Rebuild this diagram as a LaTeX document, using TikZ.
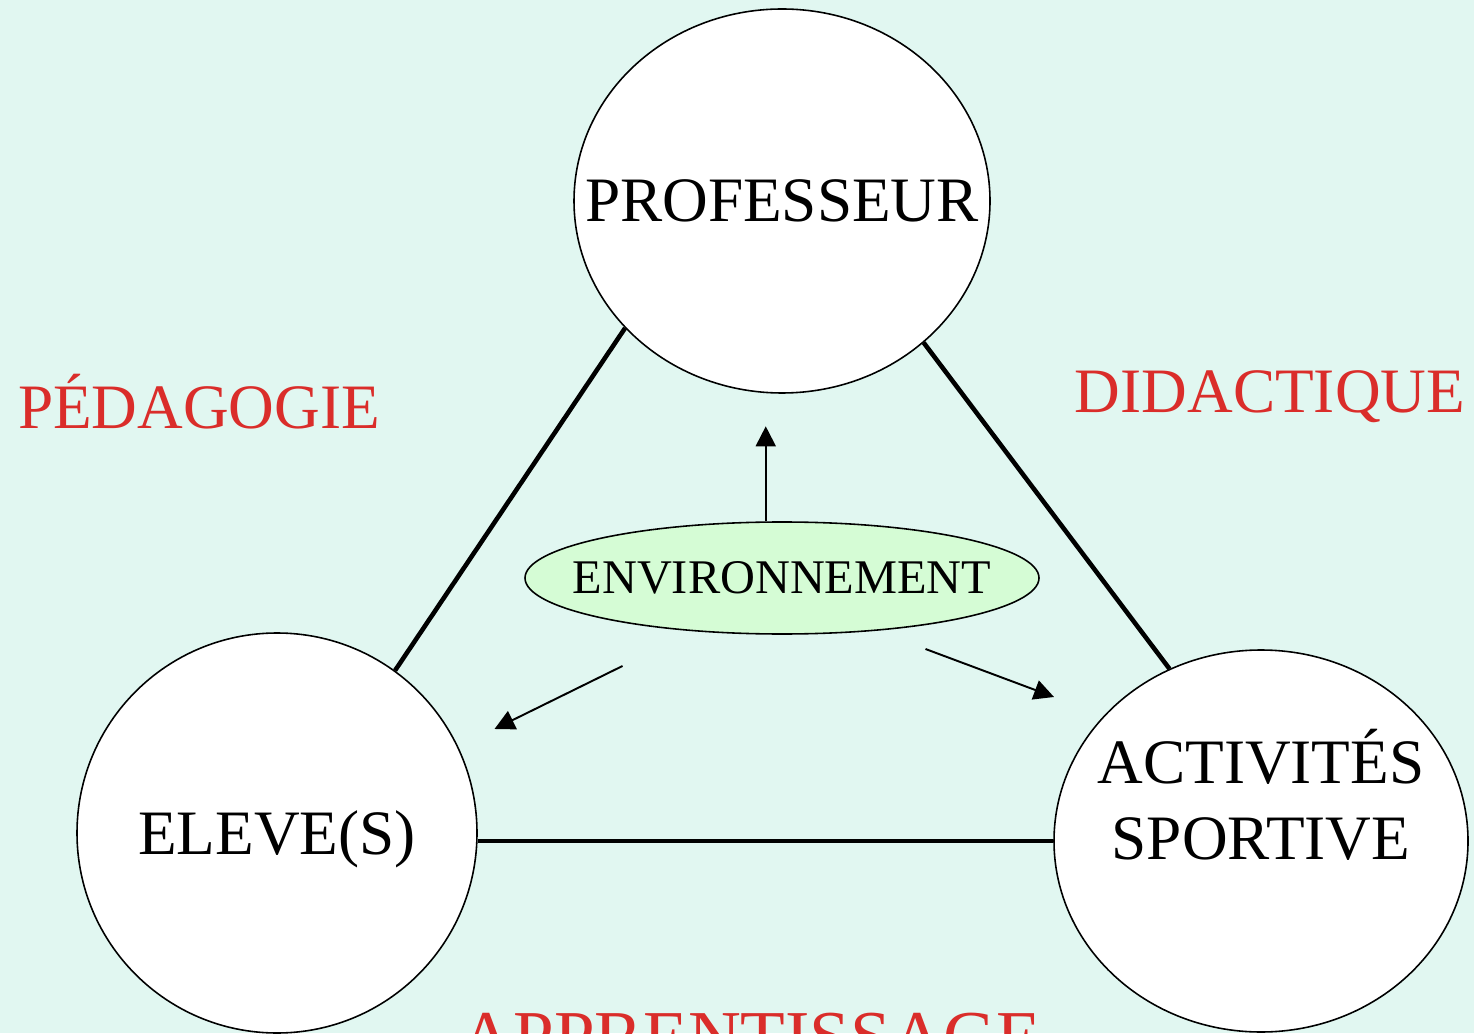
\documentclass[tikz,border=0pt]{standalone}
\usepackage{fontspec}
\setmainfont{Liberation Serif}
\usetikzlibrary{arrows.meta,shapes.geometric}
\definecolor{fond}{RGB}{225,247,241}
\definecolor{vert}{RGB}{213,252,213}
\definecolor{rouge}{RGB}{218,45,42}

\begin{document}
\begin{tikzpicture}[
pole/.style={draw=black, line width=0.9pt, fill=white, ellipse, inner sep=0pt,
    font=\fontsize{36}{43.6}\selectfont, text depth=0pt},
titre/.style={text=rouge, anchor=base, inner sep=0pt, font=\fontsize{36}{43.6}\selectfont},
lien/.style={line width=2.6pt},
fleche/.style={line width=1.1pt, -{Triangle[length=4mm,width=4mm]}}]
\fill[fond] (0,0) rectangle (29.48,20.66);
\useasboundingbox (0,0) rectangle (29.48,20.66);
\node[pole, minimum width=8.32cm, minimum height=7.68cm] (P) at (15.64,16.64) {\makebox[0pt]{PROFESSEUR}};
\node[pole, minimum width=8cm, minimum height=8cm] (E) at (5.54,4.00) {\makebox[0pt]{ELEVE(S)}};
\node[pole, minimum width=8.28cm, minimum height=7.64cm] (S) at (25.22,3.84) {};
\node[align=center, inner sep=0pt, font=\fontsize{36}{43.6}\selectfont] (T) at (25.22,4.76) {ACTIVITÉS\\SPORTIVE};
\node[draw=black, line width=0.9pt, fill=vert, ellipse, inner sep=0pt,
    minimum width=10.28cm, minimum height=2.24cm, font=\fontsize{27.5}{33}\selectfont] (N) at (15.64,9.10) {\makebox[0pt]{ENVIRONNEMENT}};
\draw[lien] (P.219) -- (E.54);
\draw[lien] (P.315) -- (S.118.5);
\draw[lien] (S.west -| E.east) -- (S.west);
\coordinate (a) at (12.45,7.34);
\coordinate (b) at (9.89,6.08);
\coordinate (c) at (18.51,7.68);
\coordinate (d) at (21.08,6.72);
\draw[fleche] (N.106) -- ++(0,1.9);
\draw[fleche] (a) -- (b);
\draw[fleche] (c) -- (d);
\node[titre] (G) at (3.98,12.08) {PÉDAGOGIE};
\node[titre] (D) at (25.40,12.40) {DIDACTIQUE};
\node[titre, font=\fontsize{41.6}{48}\selectfont] (A) at (15.02,-0.57) {APPRENTISSAGE};
\end{tikzpicture}
\end{document}
